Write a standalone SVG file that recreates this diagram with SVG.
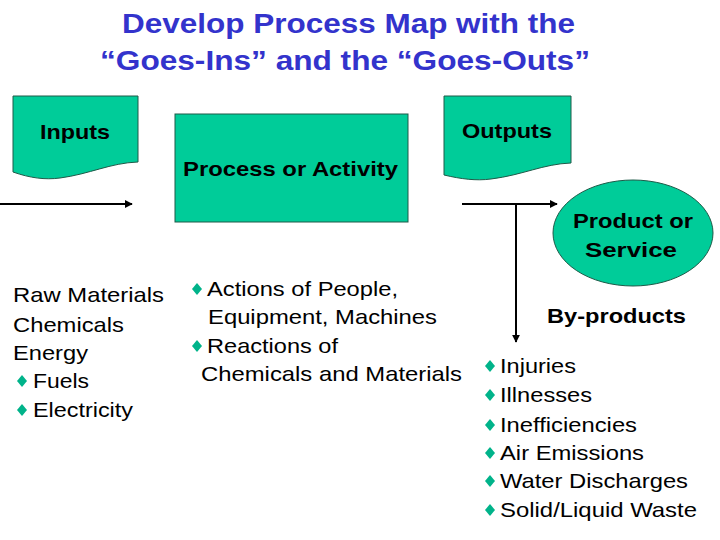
<svg xmlns="http://www.w3.org/2000/svg" width="720" height="540" viewBox="0 0 720 540">
<style>
.shape{fill:#00CC99;stroke:#1E5A48;stroke-width:1}
.t{font-family:"Liberation Sans",Arial,sans-serif;fill:#000}
.b{font-weight:bold;font-size:21px}
.r{font-size:21px}
.title{font-family:"Liberation Sans",Arial,sans-serif;font-weight:bold;font-size:28px;fill:#3333CC}
.conn{stroke:#000;stroke-width:2;fill:none}
.dia{fill:#00B38A}
</style>
<defs>
<marker id="ah" viewBox="0 0 10 10" refX="9" refY="5" markerWidth="4" markerHeight="4" orient="auto" markerUnits="strokeWidth">
<path d="M0,0 L10,5 L0,10 Z" fill="#000"/>
</marker>
<polygon id="d" class="dia" points="0,-6 5,0 0,6 -5,0"/>
</defs>
<rect width="720" height="540" fill="#fff"/>
<g id="title">
<text class="title" x="122" y="33" textLength="453" lengthAdjust="spacingAndGlyphs">Develop Process Map with the</text>
<text class="title" x="100" y="70" textLength="490" lengthAdjust="spacingAndGlyphs">“Goes-Ins” and the “Goes-Outs”</text>
</g>
<g id="connectors">
<line class="conn" x1="0" y1="204" x2="132" y2="204" marker-end="url(#ah)"/>
<line class="conn" x1="462" y1="204" x2="557" y2="204" marker-end="url(#ah)"/>
<line class="conn" x1="516" y1="204" x2="516" y2="342" marker-end="url(#ah)"/>
</g>
<g id="inputs">
<path class="shape" d="M13,96 H138 V162 C110,163 90,174 60,178 C45,180 30,178 13,172 Z"/>
<text class="t b" x="40" y="139" textLength="70" lengthAdjust="spacingAndGlyphs">Inputs</text>
</g>
<g id="process">
<rect class="shape" x="175" y="114" width="233" height="108"/>
<text class="t b" x="183" y="176" textLength="215" lengthAdjust="spacingAndGlyphs">Process or Activity</text>
</g>
<g id="outputs">
<path class="shape" d="M444,96 H571 V163 C543,164 523,175 491,179 C476,181 461,179 444,175 Z"/>
<text class="t b" x="462" y="138" textLength="90" lengthAdjust="spacingAndGlyphs">Outputs</text>
</g>
<g id="product">
<ellipse class="shape" cx="633" cy="233" rx="80" ry="53"/>
<text class="t b" x="573" y="228" textLength="120" lengthAdjust="spacingAndGlyphs">Product or</text>
<text class="t b" x="585" y="257" textLength="92" lengthAdjust="spacingAndGlyphs">Service</text>
</g>
<g id="byproducts-label">
<text class="t b" x="547" y="323" textLength="139" lengthAdjust="spacingAndGlyphs">By-products</text>
</g>
<g id="input-list">
<text class="t r" x="13" y="302" textLength="151" lengthAdjust="spacingAndGlyphs">Raw Materials</text>
<text class="t r" x="13" y="332" textLength="111" lengthAdjust="spacingAndGlyphs">Chemicals</text>
<text class="t r" x="13" y="360" textLength="75" lengthAdjust="spacingAndGlyphs">Energy</text>
<use href="#d" x="22" y="381"/>
<text class="t r" x="33" y="388" textLength="56" lengthAdjust="spacingAndGlyphs">Fuels</text>
<use href="#d" x="22" y="410"/>
<text class="t r" x="33" y="417" textLength="100" lengthAdjust="spacingAndGlyphs">Electricity</text>
</g>
<g id="process-list">
<use href="#d" x="197" y="289"/>
<text class="t r" x="207" y="296" textLength="191" lengthAdjust="spacingAndGlyphs">Actions of People,</text>
<text class="t r" x="208" y="324" textLength="229" lengthAdjust="spacingAndGlyphs">Equipment, Machines</text>
<use href="#d" x="197" y="346"/>
<text class="t r" x="207" y="353" textLength="131" lengthAdjust="spacingAndGlyphs">Reactions of</text>
<text class="t r" x="201" y="381" textLength="261" lengthAdjust="spacingAndGlyphs">Chemicals and Materials</text>
</g>
<g id="byproduct-list">
<use href="#d" x="490" y="366"/>
<text class="t r" x="500" y="373" textLength="76" lengthAdjust="spacingAndGlyphs">Injuries</text>
<use href="#d" x="490" y="395"/>
<text class="t r" x="500" y="402" textLength="92" lengthAdjust="spacingAndGlyphs">Illnesses</text>
<use href="#d" x="490" y="425"/>
<text class="t r" x="500" y="432" textLength="137" lengthAdjust="spacingAndGlyphs">Inefficiencies</text>
<use href="#d" x="490" y="453"/>
<text class="t r" x="500" y="460" textLength="144" lengthAdjust="spacingAndGlyphs">Air Emissions</text>
<use href="#d" x="490" y="481"/>
<text class="t r" x="500" y="488" textLength="188" lengthAdjust="spacingAndGlyphs">Water Discharges</text>
<use href="#d" x="490" y="510"/>
<text class="t r" x="500" y="517" textLength="197" lengthAdjust="spacingAndGlyphs">Solid/Liquid Waste</text>
</g>
</svg>
